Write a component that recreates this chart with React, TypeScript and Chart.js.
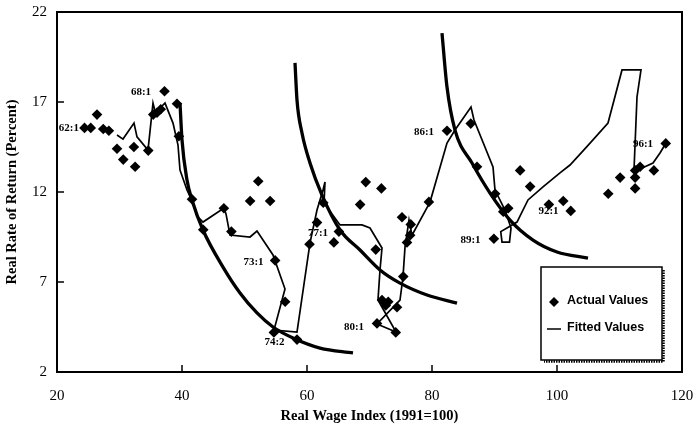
import React, { useEffect, useRef } from 'react';
import { Chart, registerables } from 'chart.js';

Chart.register(...registerables);

const xTicks = [20, 40, 60, 80, 100, 120];
const yTicks = [2, 7, 12, 17, 22];

const actualX = [24.4, 25.4, 26.4, 27.4, 28.3, 29.6, 30.6, 32.3, 32.5, 34.6, 35.4, 36.0, 36.6, 37.2, 39.2, 39.5, 41.6, 43.4, 46.7, 47.9, 50.9, 52.2, 54.1, 54.9, 56.5, 54.7, 58.4, 60.4, 61.6, 62.6, 64.3, 65.1, 68.5, 69.4, 71.9, 71.0, 72.0, 72.6, 73.0, 74.4, 71.2, 74.2, 75.4, 75.2, 76.0, 76.5, 76.6, 79.5, 82.4, 86.2, 87.2, 90.1, 91.4, 92.2, 89.9, 94.1, 95.7, 98.7, 101.0, 102.2, 108.2, 110.1, 112.5, 112.5, 112.5, 113.3, 115.5, 117.4];
const actualY = [15.56, 15.56, 16.3, 15.5, 15.4, 14.4, 13.8, 14.5, 13.4, 14.3, 16.3, 16.4, 16.6, 17.6, 16.9, 15.1, 11.6, 9.9, 11.1, 9.8, 11.5, 12.6, 11.5, 8.2, 5.9, 4.2, 3.8, 9.1, 10.3, 11.4, 9.2, 9.8, 11.3, 12.55, 12.2, 8.8, 6.0, 5.7, 5.9, 5.6, 4.7, 4.2, 7.3, 10.6, 9.2, 9.6, 10.2, 11.45, 15.4, 15.8, 13.4, 11.9, 10.9, 11.1, 9.4, 13.2, 12.3, 11.3, 11.5, 10.95, 11.9, 12.8, 12.2, 12.8, 13.2, 13.4, 13.2, 14.7];

const fittedX = [29.6, 30.56, 32.32, 32.8, 34.56, 35.36, 35.84, 36.48, 37.28, 38.56, 39.36, 39.68, 40.8, 41.6, 42.56, 43.36, 46.72, 47.04, 47.68, 50.88, 52.0, 54.56, 56.48, 54.72, 58.4, 60.48, 61.6, 62.56, 62.88, 62.72, 65.28, 68.8, 70.08, 72.0, 71.68, 71.36, 74.24, 71.2, 74.88, 75.36, 75.68, 76.32, 76.8, 79.68, 82.4, 83.68, 86.24, 86.72, 89.76, 90.08, 91.68, 92.64, 92.4, 91.2, 91.0, 92.0, 93.6, 95.36, 97.76, 100.48, 102.08, 105.0, 108.16, 110.4, 113.44, 112.8, 112.32, 113.28, 115.36, 116.48, 117.44];
const fittedY = [15.17, 14.94, 15.83, 15.06, 14.33, 16.94, 16.28, 16.67, 16.94, 15.83, 14.61, 13.22, 12.11, 11.5, 10.61, 10.33, 11.11, 10.78, 9.61, 9.5, 9.83, 8.5, 6.61, 4.33, 4.22, 9.17, 11.0, 12.11, 12.56, 11.39, 10.17, 10.17, 10.0, 8.89, 7.67, 6.0, 4.22, 4.67, 6.0, 7.28, 8.94, 10.44, 9.6, 11.44, 14.72, 15.44, 16.72, 16.0, 13.39, 12.11, 11.0, 10.0, 9.22, 9.22, 9.8, 10.0, 10.33, 11.56, 12.28, 13.06, 13.5, 14.6, 15.83, 18.78, 18.78, 17.28, 13.22, 13.28, 13.61, 14.17, 14.72];

const curve1X = [39.68, 40.0, 40.8, 41.6, 43.36, 46.56, 49.28, 52.0, 54.56, 57.76, 62.08, 67.36];
const curve1Y = [16.94, 14.89, 12.67, 11.56, 9.89, 7.83, 6.39, 5.28, 4.5, 3.89, 3.33, 3.06];
const curve2X = [58.08, 58.4, 59.2, 60.48, 62.4, 65.28, 68.48, 71.68, 74.88, 79.2, 84.0];
const curve2Y = [19.17, 17.11, 15.28, 13.61, 11.83, 9.89, 8.78, 7.67, 6.94, 6.28, 5.83];
const curve3X = [81.6, 82.4, 83.68, 86.4, 89.28, 92.48, 96.16, 100.0, 104.96];
const curve3Y = [20.83, 17.83, 15.44, 13.61, 11.94, 10.44, 9.33, 8.67, 8.33];

const periodLabels = ['62:1', '68:1', '73:1', '74:2', '77:1', '80:1', '86:1', '89:1', '92:1', '96:1'];
const periodLabelX = [21.9, 33.44, 51.44, 54.8, 61.76, 67.52, 78.72, 86.16, 98.64, 113.76];
const periodLabelY = [15.56, 17.56, 8.11, 3.67, 9.72, 4.5, 15.33, 9.33, 10.94, 14.67];

const xTitle = 'Real Wage Index (1991=100)';
const yTitle = 'Real Rate of Return (Percent)';
const legendLabels = ['Actual Values', 'Fitted Values'];

const SERIF = '"Liberation Serif", "Times New Roman", serif';
const SANS = '"Liberation Sans", Arial, sans-serif';

const zip = (xs: number[], ys: number[]) => xs.map((x, i) => ({ x, y: ys[i] }));

const decorPlugin = {
  id: 'decor',
  beforeDatasetsDraw(chart: any) {
    const { ctx, scales } = chart;
    const x = scales.x;
    const y = scales.y;
    ctx.save();
    ctx.fillStyle = '#000';
    ctx.font = `bold 11px ${SERIF}`;
    ctx.textAlign = 'center';
    ctx.textBaseline = 'middle';
    periodLabels.forEach((t, i) => {
      ctx.fillText(t, x.getPixelForValue(periodLabelX[i]), y.getPixelForValue(periodLabelY[i]));
    });
    ctx.restore();
  },
  afterDatasetsDraw(chart: any) {
    const { ctx, chartArea: a, scales } = chart;
    const x = scales.x;
    const y = scales.y;
    ctx.save();
    ctx.strokeStyle = '#000';
    ctx.lineWidth = 2;
    ctx.strokeRect(a.left, a.top, a.right - a.left, a.bottom - a.top);
    ctx.lineWidth = 1.5;
    xTicks.forEach((v) => {
      const px = x.getPixelForValue(v);
      ctx.beginPath();
      ctx.moveTo(px, a.bottom);
      ctx.lineTo(px, a.bottom - 7);
      ctx.stroke();
    });
    yTicks.forEach((v) => {
      const py = y.getPixelForValue(v);
      ctx.beginPath();
      ctx.moveTo(a.left, py);
      ctx.lineTo(a.left + 7, py);
      ctx.stroke();
    });

    // legend box
    const bx = 541, by = 267, bw = 121, bh = 93;
    ctx.fillStyle = '#fff';
    ctx.fillRect(bx, by, bw, bh);
    ctx.lineWidth = 1.5;
    ctx.strokeRect(bx, by, bw, bh);
    ctx.setLineDash([1.5, 1]);
    ctx.lineWidth = 2.5;
    ctx.beginPath();
    ctx.moveTo(bx + bw + 1.5, by + 3);
    ctx.lineTo(bx + bw + 1.5, by + bh + 1.5);
    ctx.lineTo(bx + 3, by + bh + 1.5);
    ctx.stroke();
    ctx.setLineDash([]);

    // diamond
    const dx = 554, dy = 302, r = 5;
    ctx.fillStyle = '#000';
    ctx.beginPath();
    ctx.moveTo(dx - r, dy);
    ctx.lineTo(dx, dy - r);
    ctx.lineTo(dx + r, dy);
    ctx.lineTo(dx, dy + r);
    ctx.closePath();
    ctx.fill();
    // line
    ctx.lineWidth = 1.5;
    ctx.beginPath();
    ctx.moveTo(547, 329);
    ctx.lineTo(561, 329);
    ctx.stroke();

    ctx.font = `bold 12.5px ${SANS}`;
    ctx.textAlign = 'left';
    ctx.textBaseline = 'middle';
    ctx.fillText(legendLabels[0], 567, 301);
    ctx.fillText(legendLabels[1], 567, 328);
    ctx.restore();
  },
};

export default function App() {
  const ref = useRef<HTMLCanvasElement | null>(null);

  useEffect(() => {
    if (!ref.current) return;
    const thick = (xs: number[], ys: number[]) => ({
      label: 'curve',
      data: zip(xs, ys),
      showLine: true,
      borderColor: '#000',
      borderWidth: 3.3,
      pointRadius: 0,
      cubicInterpolationMode: 'monotone' as const,
      fill: false,
    });
    const chart = new Chart(ref.current, {
      type: 'scatter',
      data: {
        datasets: [
          {
            label: legendLabels[0],
            data: zip(actualX, actualY),
            pointStyle: 'rectRot',
            pointRadius: 5.3,
            backgroundColor: '#000',
            borderColor: '#000',
            borderWidth: 0,
            showLine: false,
          },
          {
            label: legendLabels[1],
            data: zip(fittedX, fittedY),
            showLine: true,
            borderColor: '#000',
            borderWidth: 1.7,
            pointRadius: 0,
            tension: 0,
            fill: false,
          },
          thick(curve1X, curve1Y),
          thick(curve2X, curve2Y),
          thick(curve3X, curve3Y),
        ] as any,
      },
      plugins: [decorPlugin],
      options: {
        animation: false,
        responsive: true,
        maintainAspectRatio: false,
        events: [],
        layout: { padding: { top: 12, right: 16, left: 0, bottom: 0 } },
        plugins: {
          legend: { display: false },
          tooltip: { enabled: false },
        },
        scales: {
          x: {
            type: 'linear',
            min: 20,
            max: 120,
            afterFit: (s: any) => {
              s.height = 58;
              s.paddingLeft = 0;
              s.paddingRight = 0;
            },
            grid: { display: false, drawTicks: false },
            border: { display: false },
            ticks: {
              stepSize: 20,
              padding: 15,
              color: '#000',
              font: { family: SERIF, size: 15 },
            },
            title: {
              display: true,
              text: xTitle,
              color: '#000',
              font: { family: SERIF, size: 14.5, weight: 'bold' },
              padding: { top: 0, bottom: 5 },
            },
          },
          y: {
            type: 'linear',
            min: 2,
            max: 22,
            afterFit: (s: any) => {
              s.width = 57;
              s.paddingTop = 0;
              s.paddingBottom = 0;
            },
            grid: { display: false, drawTicks: false },
            border: { display: false },
            ticks: {
              stepSize: 5,
              padding: 10,
              color: '#000',
              font: { family: SERIF, size: 15 },
            },
            title: {
              display: true,
              text: yTitle,
              color: '#000',
              font: { family: SERIF, size: 14.5, weight: 'bold' },
              padding: { top: 4, bottom: 0 },
            },
          },
        },
      } as any,
    });
    return () => chart.destroy();
  }, []);

  return (
    <div style={{ position: 'fixed', left: 0, top: 0, width: 698, height: 430, background: '#fff' }}>
      <canvas ref={ref} />
    </div>
  );
}
